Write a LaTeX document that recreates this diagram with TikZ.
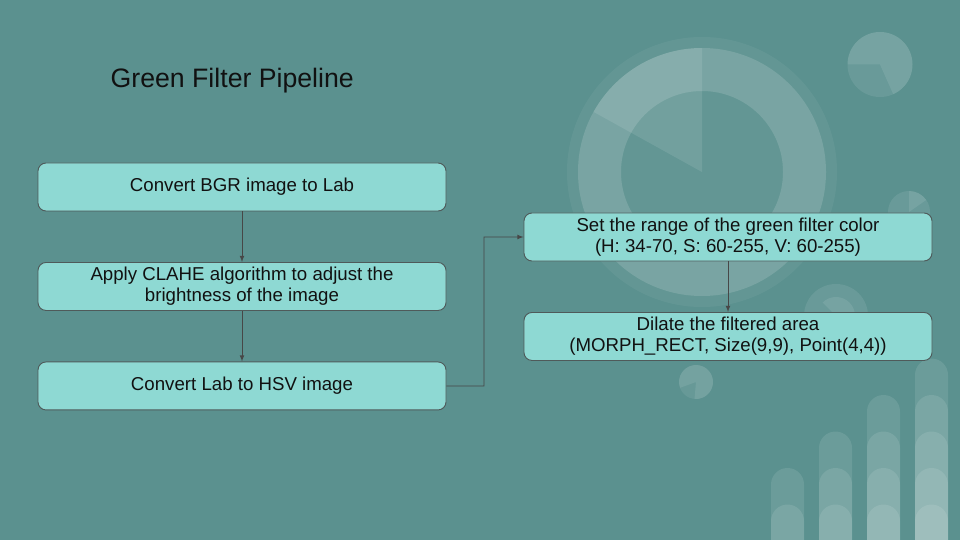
\documentclass[tikz,border=0pt]{standalone}
\usepackage{fontspec}
\setmainfont{Liberation Sans}
\usetikzlibrary{positioning}

\definecolor{slidebg}{HTML}{5B918F}
\definecolor{boxfill}{HTML}{8ED9D3}
\definecolor{boxline}{HTML}{4F5A5A}
\definecolor{arrowgray}{HTML}{474747}
\definecolor{textblack}{HTML}{111111}

\begin{document}
\begin{tikzpicture}[x=0.75pt,y=0.75pt,>=latex,node distance=74.6pt,
	step node/.style={rectangle,rounded corners=6pt,draw=boxline,line width=0.7pt,fill=boxfill,text=textblack,minimum width=306pt,minimum height=36pt,inner sep=0pt,align=center,font=\fontsize{14}{15.8}\selectfont},
	deco/.style={fill=white,fill opacity=#1},
	flow/.style={->,draw=arrowgray,line width=0.6pt}]
	
	% slide background
	\fill[slidebg] (0,0) rectangle (960,540);
	\clip (0,0) rectangle (960,540);
	
	% big ring
	\fill[deco=0.05] (702,368) circle (135);
	\fill[deco=0.14,even odd rule] (702,368) circle (124) (702,368) circle (81);
	\fill[deco=0.1] (702,368) -- ++(90:124) arc (90:151:124) -- cycle;
	
	% small pies and circles
	\fill[deco=0.09] (880,475.5) circle (32.5);
	\fill[deco=0.09] (880,475.5) -- ++(-66:32.5) arc (-66:180:32.5) -- cycle;
	\fill[deco=0.09] (909,328) circle (21);
	\fill[deco=0.09] (909,328) -- ++(35:21) arc (35:90:21) -- cycle;
	\fill[deco=0.09] (836,224) circle (32);
	\fill[deco=0.09] (836,224) -- ++(-45:19) arc (-45:135:19) -- cycle;
	\fill[deco=0.08] (696,158) circle (17);
	\fill[deco=0.09] (696,158) -- ++(265:17) arc (265:560:17) -- cycle;
	
	% bars
	\foreach \bx/\first in {771/4,819/3,867/2,915/1}{
		\foreach \k in {\first,...,5}{
			\pgfmathsetmacro{\top}{218-36.5*\k}
			\fill[deco=0.1] (\bx,-5) -- (\bx,\top-16.5) arc (180:0:16.5) -- (\bx+33,-5) -- cycle;
		}
	}
	
	% title
	\node[anchor=base west,text=textblack,font=\fontsize{20}{24}\selectfont] (title) at (106,452) {Green Filter Pipeline};
	
	% pipeline
	\node[step node] (bgr) at (242,353) {Convert BGR image to Lab};
	\node[step node] (clahe) [below of = bgr] {Apply CLAHE algorithm to adjust the\\brightness of the image};
	\node[step node] (hsv) [below of = clahe] {Convert Lab to HSV image};
	\node[step node] (range) at (728,303) {Set the range of the green filter color\\(H: 34-70, S: 60-255, V: 60-255)};
	\node[step node] (dilate) [below of = range] {Dilate the filtered area\\(MORPH\_RECT, Size(9,9), Point(4,4))};
	
	\coordinate (turn) at (484,154);
	
	\draw[flow] (bgr) -- (clahe);
	\draw[flow] (clahe) -- (hsv);
	\draw[flow] (hsv.east) -- (turn) |- (range.west);
	\draw[flow] (range) -- (dilate);
	
\end{tikzpicture}
\end{document}
